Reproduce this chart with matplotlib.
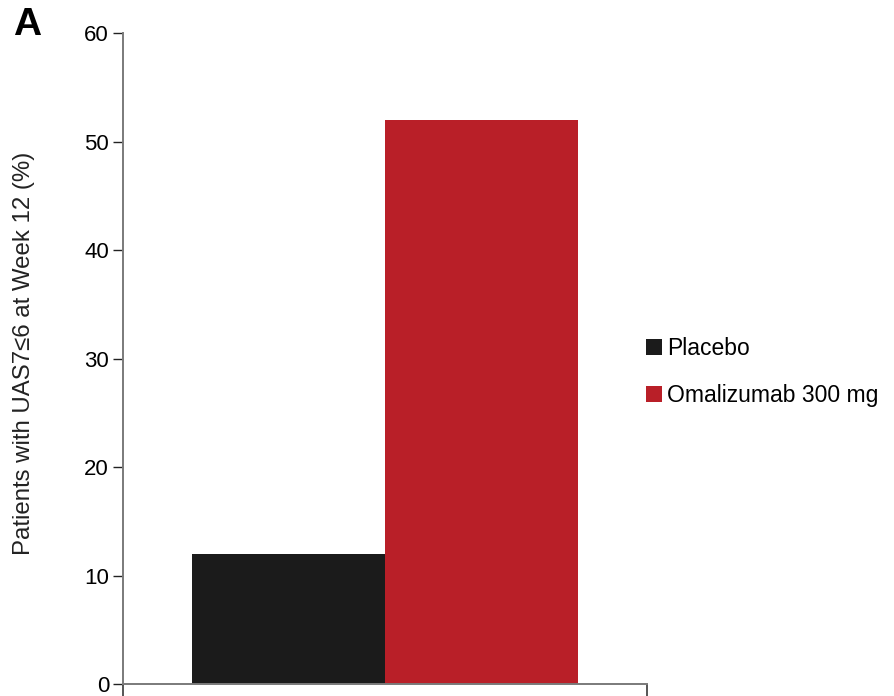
import numpy as np
import matplotlib
matplotlib.use("Agg")
import matplotlib.pyplot as plt

plt.rcParams['font.family'] = ['Liberation Sans', 'DejaVu Sans']

# data
groups = ['Placebo', 'Omalizumab 300 mg']
pct = [12, 52]
colors = ['#1b1b1b', '#b91f28']
yticks = [0, 10, 20, 30, 40, 50, 60]

fig = plt.figure(figsize=(8.95, 6.96), dpi=100)
ax = fig.add_axes([0.1374, 0.0172, 0.5855, 0.9353])

xpos = np.arange(len(groups))
bars = ax.bar(xpos, pct, width=1.0, color=colors, label=groups)

ax.set_xlim(-0.858, 1.859)
ax.set_ylim(0, 60)
ax.set_yticks(yticks)
ax.set_xticks([-0.858, 1.859])
ax.set_xticklabels([])

for s in ['top', 'right']:
    ax.spines[s].set_visible(False)
for s in ['left', 'bottom']:
    ax.spines[s].set_color('#7a7a7a')
    ax.spines[s].set_linewidth(1.4)
ax.tick_params(axis='y', length=7, width=1.0, color='#222222', labelsize=16, pad=3)
ax.tick_params(axis='x', length=10, width=1.4, color='#555555')

fig.text(24/895, 1 - 353/696, 'Patients with UAS7\u22646 at Week 12 (%)',
         rotation=90, ha='center', va='center', fontsize=17.3, color='#222222')
fig.text(13/895, 1 - 7/696, 'A', fontsize=28, fontweight='bold', ha='left', va='top')

leg = ax.legend(handles=bars, labels=groups, loc='center left',
                bbox_to_anchor=(635/895, 1 - 372/696), bbox_transform=fig.transFigure,
                frameon=False, fontsize=16.5, handlelength=0.7, handleheight=0.7,
                handletextpad=0.2, labelspacing=1.05, borderpad=0)

fig.savefig('out.png', dpi=100)
